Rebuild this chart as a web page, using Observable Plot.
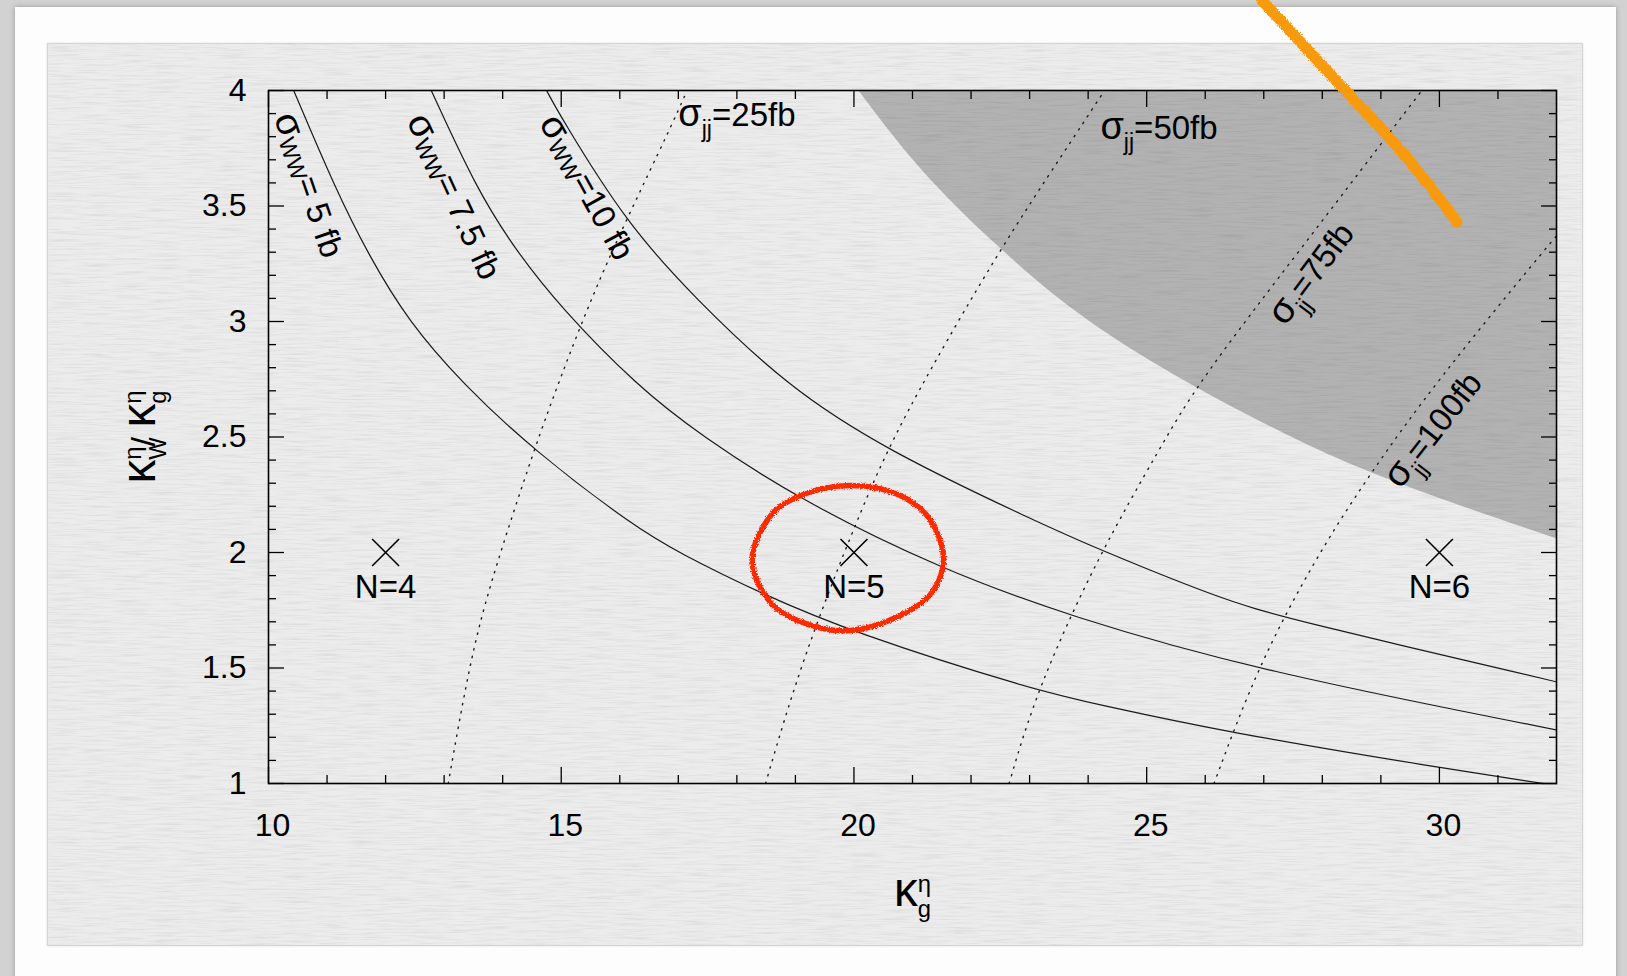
<!DOCTYPE html>
<html>
<head>
<meta charset="utf-8">
<script src="https://cdn.jsdelivr.net/npm/d3@7"></script>
<script src="https://cdn.jsdelivr.net/npm/@observablehq/plot@0.6"></script>
<style>
  html, body { margin: 0; padding: 0; }
  body { background: #d2d2d2; width: 1627px; height: 976px; overflow: hidden; }
  #page { position: relative; width: 1627px; height: 976px; overflow: hidden; }
  #card { position: absolute; left: 15px; top: 7px; width: 1601px; height: 990px; background: #fdfdfd;
          box-shadow: 0 0 5px rgba(0,0,0,0.28); }
  #panel { position: absolute; left: 47px; top: 43px; width: 1534px; height: 901px; background: #ececec;
           border: 1px solid #d4d4d4; box-shadow: 0 0 2px rgba(0,0,0,0.12); overflow: hidden; }
  #panel svg { display: block; }
  #chart { position: absolute; left: 0; top: 0; }
</style>
</head>
<body>
<div id="page">
  <div id="card"></div>
  <div id="panel">
    <svg width="1534" height="901">
      <filter id="paper" x="0" y="0" width="100%" height="100%">
        <feTurbulence type="fractalNoise" baseFrequency="0.03 0.6" numOctaves="3" seed="7"/>
        <feColorMatrix type="matrix" values="0 0 0 0 0.4  0 0 0 0 0.4  0 0 0 0 0.4  2.4 0 0 0 -1.05"/>
      </filter>
      <rect width="1534" height="901" filter="url(#paper)" opacity="0.22"/>
    </svg>
  </div>
  <div id="chart"></div>
</div>
<svg width="0" height="0" style="position:absolute">
  <filter id="rough" x="-5%" y="-5%" width="110%" height="110%">
    <feTurbulence type="fractalNoise" baseFrequency="0.8" numOctaves="2" seed="2" result="n"/>
    <feDisplacementMap in="SourceGraphic" in2="n" scale="4" xChannelSelector="R" yChannelSelector="G"/>
  </filter>
</svg>
<script>
// Axis ticks
const xMajor = [10, 15, 20, 25, 30];
const xMinor = d3.range(11, 32).filter(v => v % 5 !== 0);
const yMajor = [1, 1.5, 2, 2.5, 3, 3.5, 4];
const yMinor = d3.range(11, 40).filter(i => i % 5 !== 0).map(i => i / 10);
const xTickLabels = ["10", "15", "20", "25", "30"];
const yTickLabels = ["1", "1.5", "2", "2.5", "3", "3.5", "4"];

// sigma_WW contours (solid): [kappa_g, kappa_W/kappa_g]
const sigmaWW5 = [[10.43,4],[11.14,3.576],[11.71,3.287],[12.39,3.0],[13.32,2.73],[14.53,2.442],[16.26,2.11],[17.0,2.0],[18.43,1.82],[20,1.652],[23.07,1.405],[24.21,1.34],[26.3,1.225],[29.96,1.07],[31.78,1.0]];
const sigmaWW75 = [[12.78,4],[13.55,3.576],[14.2,3.316],[14.99,3.06],[16.3,2.72],[17.38,2.507],[19.09,2.225],[21.48,1.929],[23.64,1.727],[26.88,1.489],[32,1.232]];
const sigmaWW10 = [[14.75,4],[14.99,3.886],[16.12,3.423],[17.27,3.105],[18.85,2.72],[20.56,2.442],[23.07,2.139],[24.21,2.01],[26.26,1.80],[27.34,1.717],[32,1.44]];

// sigma_jj contours (dotted)
const sigmaJJ25 = [[13.07,1],[13.42,1.5],[13.76,1.85],[14.55,2.456],[14.99,2.76],[15.56,3.13],[16.13,3.45],[16.87,3.84],[17.15,4]];
const sigmaJJ50 = [[18.49,1],[19.09,1.518],[20.0,2.11],[20.56,2.44],[21.25,2.77],[22.5,3.316],[23.59,3.734],[24.28,4]];
const sigmaJJ75 = [[22.65,1],[23.12,1.403],[24.18,1.99],[25.24,2.456],[25.86,2.73],[27.68,3.33],[29.7,4]];
const sigmaJJ100 = [[26.15,1],[26.89,1.503],[27.86,1.965],[28.77,2.326],[29.96,2.745],[31.88,3.336],[32,3.37]];

// excluded region boundary (shaded above)
const excludedEdge = [[20.08,4],[21.08,3.662],[22.47,3.316],[23.93,3.0],[25.75,2.724],[27.11,2.542],[28.82,2.333],[32,2.06]];

// benchmark points
const benchX = [12, 20, 30];
const benchY = [2, 2, 2];
const benchNames = ["N=4", "N=5", "N=6"];

// highlighted benchmark ring and marker stroke
const ring = [[18.26,1.965],[18.6,2.167],[19.09,2.247],[19.94,2.29],[20.79,2.247],[21.31,2.139],[21.53,1.965],[21.31,1.82],[20.79,1.727],[19.94,1.662],[19.2,1.69],[18.6,1.777]];
const marker = [[26.97,4.39],[27.76,4.173],[28.71,3.913],[29.42,3.726],[30.3,3.43]];

// contour labels: text, anchor point (data units), rotation
const wwNames = ["σ_{WW}= 5 fb", "σ_{WW}= 7.5 fb", "σ_{WW}=10 fb"];
const wwAt = [[10.68,3.59],[13.16,3.54],[15.43,3.58]];
const wwAngle = [71, 65, 61];
const jjFlatNames = ["σ_{jj}=25fb", "σ_{jj}=50fb"];
const jjFlatAt = [[17.0,3.89],[24.21,3.835]];
const jjTiltNames = ["σ_{jj}=75fb", "σ_{jj}=100fb"];
const jjTiltAt = [[27.82,3.206],[29.9,2.53]];
const jjTiltAngle = [-53, -52];

const X = d => d[0], Y = d => d[1];
const solid = pts => Plot.line(pts, {x: X, y: Y, curve: "basis", stroke: "#1a1a1a", strokeWidth: 1.2, clip: true});
const dotted = pts => Plot.line(pts, {x: X, y: Y, curve: "basis", stroke: "#1a1a1a", strokeWidth: 1.4,
  strokeDasharray: "1.4,6.6", clip: true});
const blank = () => "";

const chart = Plot.plot({
  width: 1627,
  height: 976,
  marginLeft: 268,
  marginRight: 71,
  marginTop: 90,
  marginBottom: 193,
  x: {domain: [10, 32]},
  y: {domain: [1, 4]},
  style: {background: "transparent", fontFamily: "'Liberation Sans', Arial, Helvetica, sans-serif", color: "#000", overflow: "visible"},
  marks: [
    Plot.areaY(excludedEdge, {x: X, y1: Y, y2: 4, curve: "basis", fill: "#000", fillOpacity: 0.245, clip: true}),
    solid(sigmaWW5), solid(sigmaWW75), solid(sigmaWW10),
    dotted(sigmaJJ25), dotted(sigmaJJ50), dotted(sigmaJJ75), dotted(sigmaJJ100),

    // ticks on all four sides, pointing inward
    Plot.axisX(xMajor, {anchor: "bottom", tickSize: -16, tickFormat: blank, label: null, strokeWidth: 1.3}),
    Plot.axisX(xMinor, {anchor: "bottom", tickSize: -8, tickFormat: blank, label: null, strokeWidth: 1.3}),
    Plot.axisX(xMajor, {anchor: "top", tickSize: -16, tickFormat: blank, label: null, strokeWidth: 1.3}),
    Plot.axisX(xMinor, {anchor: "top", tickSize: -8, tickFormat: blank, label: null, strokeWidth: 1.3}),
    Plot.axisY(yMajor, {anchor: "left", tickSize: -16, tickFormat: blank, label: null, strokeWidth: 1.3}),
    Plot.axisY(yMinor, {anchor: "left", tickSize: -8, tickFormat: blank, label: null, strokeWidth: 1.3}),
    Plot.axisY(yMajor, {anchor: "right", tickSize: -16, tickFormat: blank, label: null, strokeWidth: 1.3}),
    Plot.axisY(yMinor, {anchor: "right", tickSize: -8, tickFormat: blank, label: null, strokeWidth: 1.3}),

    // tick labels
    Plot.axisX(xMajor, {anchor: "bottom", tickSize: 0, tickPadding: 30, dx: 4, fontSize: 32, label: null,
      tickFormat: d => xTickLabels[xMajor.indexOf(d)]}),
    Plot.axisY(yMajor, {anchor: "left", tickSize: 0, tickPadding: 22, fontSize: 32, label: null,
      tickFormat: d => yTickLabels[yMajor.indexOf(d)]}),

    Plot.frame({stroke: "#000", strokeWidth: 1.6}),

    // axis titles
    Plot.text(["κ_{g}^{η}"], {frameAnchor: "bottom", textAnchor: "middle", lineAnchor: "middle", dy: 112, fontSize: 34}),
    Plot.text(["κ_{W}^{η}/ κ_{g}^{η}"], {frameAnchor: "left", textAnchor: "middle", lineAnchor: "middle",
      dx: -124, rotate: -90, fontSize: 34}),

    // contour labels
    Plot.text(wwNames, {x: (d, i) => wwAt[i][0], y: (d, i) => wwAt[i][1], text: d => d,
      rotate: (d, i) => wwAngle[i], fontSize: 33}),
    Plot.text(jjFlatNames, {x: (d, i) => jjFlatAt[i][0], y: (d, i) => jjFlatAt[i][1], text: d => d,
      textAnchor: "start", fontSize: 33}),
    Plot.text(jjTiltNames, {x: (d, i) => jjTiltAt[i][0], y: (d, i) => jjTiltAt[i][1], text: d => d,
      rotate: (d, i) => jjTiltAngle[i], fontSize: 33}),

    // benchmark points
    Plot.dot(benchX, {x: d => d, y: (d, i) => benchY[i], symbol: "times", r: 12.3, stroke: "#000", strokeWidth: 1.6}),
    Plot.text(benchX, {x: d => d, y: (d, i) => benchY[i], text: (d, i) => benchNames[i], dy: 35, fontSize: 33}),

    // hand-drawn highlights
    Plot.line(ring, {x: X, y: Y, curve: "catmull-rom-closed", stroke: "#ff2a00", strokeWidth: 5.5}),
    Plot.line(marker, {x: X, y: Y, curve: "basis", stroke: "#f89a0c", strokeWidth: 11, strokeLinecap: "round"})
  ]
});

document.getElementById("chart").append(chart);

// Sub/superscript rendering for texts written as base_{sub}^{sup}
const greekScale = {"κ": 1.4, "σ": 1.15};
function richText(t) {
  const src = t.textContent;
  if (!/[_^]\{/.test(src)) return;
  const base = parseFloat(getComputedStyle(t).fontSize);
  const subDrop = /^σ_\{WW\}/.test(src) ? 0.1 : 0.32;
  t.textContent = "";
  const ns = "http://www.w3.org/2000/svg";
  const add = (s, size, dy, dx) => {
    const sp = document.createElementNS(ns, "tspan");
    sp.textContent = s;
    sp.setAttribute("font-size", size);
    if (dy) sp.setAttribute("dy", dy);
    if (dx) sp.setAttribute("dx", dx);
    t.appendChild(sp);
    return sp;
  };
  let shift = 0, lastSub = null;
  const re = /([_^])\{([^}]*)\}|([^_^]+)/g;
  let m;
  while ((m = re.exec(src))) {
    if (m[3]) {
      for (const part of m[3].split(/([\u0370-\u03ff])/).filter(Boolean)) {
        add(part, base * (greekScale[part] || 1), -shift);
        shift = 0;
      }
      lastSub = null;
    } else {
      const target = m[1] === "_" ? base * subDrop : -base * 0.42;
      const dx = (m[1] === "^" && lastSub) ? -lastSub.getComputedTextLength() : 0;
      const sp = add(m[2], base * 0.7, target - shift, dx);
      shift = target;
      lastSub = m[1] === "_" ? sp : null;
    }
  }
}
chart.querySelectorAll("text").forEach(richText);

// ink texture on the hand-drawn strokes
chart.querySelectorAll('g[stroke="#ff2a00"], g[stroke="#f89a0c"]').forEach(g => g.setAttribute("filter", "url(#rough)"));
</script>
</body>
</html>
